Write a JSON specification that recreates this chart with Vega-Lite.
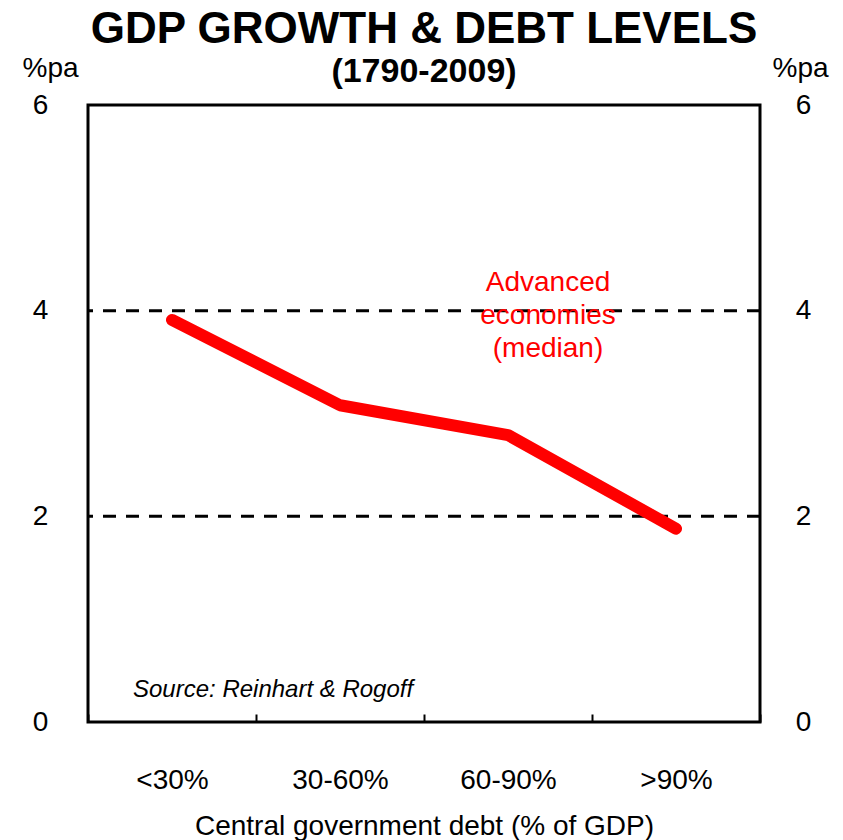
{
  "$schema": "https://vega.github.io/schema/vega-lite/v6.json",
  "autosize": "none",
  "width": 672,
  "height": 617,
  "padding": {"left": 88, "top": 105, "right": 83, "bottom": 118},
  "background": "white",
  "config": {
    "font": "Liberation Sans",
    "view": {"stroke": "black", "strokeWidth": 3},
    "axis": {"labelFont": "Liberation Sans", "titleFont": "Liberation Sans", "labelColor": "black", "titleColor": "black"}
  },
  "title": {
    "text": "GDP GROWTH  & DEBT LEVELS",
    "subtitle": "(1790-2009)",
    "font": "Liberation Sans",
    "fontSize": 44,
    "fontWeight": "bold",
    "color": "black",
    "subtitleFont": "Liberation Sans",
    "subtitleFontSize": 34,
    "subtitleFontWeight": "bold",
    "subtitleColor": "black",
    "subtitlePadding": 3,
    "anchor": "middle",
    "offset": 14,
    "dy": 49
  },
  "data": {
    "values": [
      {"debt": "<30%", "growth": 3.91},
      {"debt": "30-60%", "growth": 3.08},
      {"debt": "60-90%", "growth": 2.79},
      {"debt": ">90%", "growth": 1.88}
    ]
  },
  "resolve": {"axis": {"y": "independent"}},
  "layer": [
    {
      "data": {"values": [{"level": 2}, {"level": 4}]},
      "mark": {"type": "rule", "color": "black", "strokeWidth": 3, "strokeDash": [13, 10]},
      "encoding": {
        "y": {
          "field": "level", "type": "quantitative",
          "scale": {"domain": [0, 6], "nice": false, "zero": true},
          "axis": {
            "orient": "right", "values": [0, 2, 4, 6], "grid": false, "ticks": false, "tickSize": 0, "domain": false,
            "labelFontSize": 28, "labelAlign": "center", "labelBaseline": "middle", "labelPadding": 43,
            "title": "%pa", "titleAngle": 0, "titleFontSize": 28, "titleFontWeight": "normal",
            "titleAlign": "center", "titleBaseline": "middle", "titleX": 40, "titleY": -37
          }
        }
      }
    },
    {
      "mark": {"type": "line", "color": "#ff0000", "strokeWidth": 12, "strokeCap": "round", "strokeJoin": "round"},
      "encoding": {
        "x": {
          "field": "debt", "type": "ordinal", "sort": null,
          "scale": {"paddingInner": 0, "paddingOuter": 0},
          "axis": {
            "title": "Central government debt (% of GDP)", "titleFontSize": 28, "titleFontWeight": "normal", "titlePadding": 18,
            "labelAngle": 0, "labelFontSize": 28, "labelPadding": 52, "tickBand": "extent", "tickSize": -8,
            "tickColor": "black", "tickWidth": 2, "domain": false, "grid": false
          }
        },
        "y": {
          "field": "growth", "type": "quantitative",
          "scale": {"domain": [0, 6], "nice": false, "zero": true},
          "axis": {
            "orient": "left", "values": [0, 2, 4, 6], "grid": false, "ticks": false, "tickSize": 0, "domain": false,
            "labelFontSize": 28, "labelAlign": "center", "labelBaseline": "middle", "labelPadding": 48,
            "title": "%pa", "titleAngle": 0, "titleFontSize": 28, "titleFontWeight": "normal",
            "titleAlign": "center", "titleBaseline": "middle", "titleX": -38, "titleY": -37
          }
        }
      }
    },
    {
      "data": {"values": [{"debt": "60-90%", "growth": 4.27, "label": ["Advanced", "economies", "(median)"]}]},
      "mark": {"type": "text", "color": "#ff0000", "fontSize": 28, "align": "center", "baseline": "middle", "lineHeight": 33, "dx": 40},
      "encoding": {
        "x": {"field": "debt", "type": "ordinal", "sort": null},
        "y": {"field": "growth", "type": "quantitative", "axis": null},
        "text": {"field": "label"}
      }
    },
    {
      "data": {"values": [{"debt": "<30%", "growth": 0.31, "label": "Source: Reinhart & Rogoff"}]},
      "mark": {"type": "text", "color": "black", "fontSize": 24, "fontStyle": "italic", "align": "left", "baseline": "middle", "dx": -39},
      "encoding": {
        "x": {"field": "debt", "type": "ordinal", "sort": null},
        "y": {"field": "growth", "type": "quantitative", "axis": null},
        "text": {"field": "label"}
      }
    }
  ]
}
